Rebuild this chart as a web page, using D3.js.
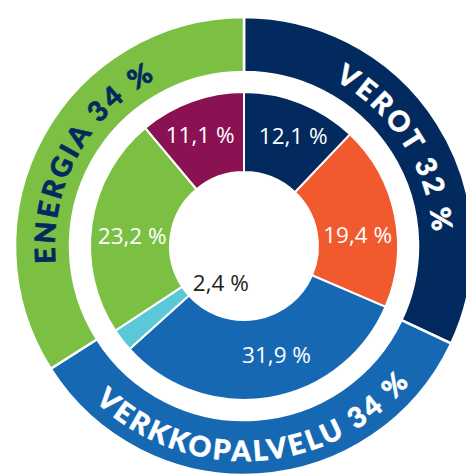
<!DOCTYPE html>
<html>
<head>
<meta charset="utf-8">
<script src="https://cdn.jsdelivr.net/npm/d3@7/dist/d3.min.js"></script>
<style>
html,body{margin:0;padding:0;background:#fff;}
svg{display:block;}
</style>
</head>
<body>
<script>
// ---- data ----
const outerCategories = ["VEROT", "VERKKOPALVELU", "ENERGIA"];
const outerValues = [32, 34, 34];
const outerLabels = ["VEROT 32 %", "VERKKOPALVELU 34 %", "ENERGIA 34 %"];
const outerColors = ["#022a5e", "#1768b3", "#7bc043"];
const outerTextColors = ["#ffffff", "#ffffff", "#022a5e"];

const innerValues = [12.1, 19.4, 31.9, 2.4, 23.2, 11.1];
const innerLabels = ["12,1 %", "19,4 %", "31,9 %", "2,4 %", "23,2 %", "11,1 %"];
const innerColors = ["#022a5e", "#f15a2e", "#1768b3", "#5bc8d8", "#7bc043", "#8a1253"];
const innerTextColors = ["#ffffff", "#ffffff", "#ffffff", "#231f20", "#ffffff", "#ffffff"];
// label nudges (layout)
const innerNudge = [[7,-4],[2,12],[14,-4],[67,-33],[1,6],[-5,-4]];

// ---- layout ----
const W = 466, H = 474;
const cx = 244, cy = 246;
const rOuterIn = 174, rOuterOut = 229;
const rInnerIn = 74, rInnerOut = 154;

const svg = d3.select("body").append("svg").attr("width", W).attr("height", H);
const g = svg.append("g").attr("transform", `translate(${cx},${cy})`);

const pie = d3.pie().sort(null).value(d => d);

// outer ring
const outerArcs = pie(outerValues);
const outerArc = d3.arc().innerRadius(rOuterIn).outerRadius(rOuterOut);
g.selectAll("path.outer").data(outerArcs).join("path")
  .attr("class", "outer")
  .attr("d", outerArc)
  .attr("fill", (d, i) => outerColors[i])
  .attr("stroke", "#fff").attr("stroke-width", 2.5);

// inner ring
const innerArcs = pie(innerValues);
const innerArc = d3.arc().innerRadius(rInnerIn).outerRadius(rInnerOut);
const labelArc = d3.arc().innerRadius(rInnerIn).outerRadius(rInnerOut);
g.selectAll("path.inner").data(innerArcs).join("path")
  .attr("class", "inner")
  .attr("d", innerArc)
  .attr("fill", (d, i) => innerColors[i])
  .attr("stroke", "#fff").attr("stroke-width", 2);

g.selectAll("text.inner").data(innerArcs).join("text")
  .attr("class", "inner")
  .attr("x", (d, i) => labelArc.centroid(d)[0] + innerNudge[i][0])
  .attr("y", (d, i) => labelArc.centroid(d)[1] + innerNudge[i][1])
  .attr("dy", "0.36em")
  .attr("text-anchor", "middle")
  .attr("font-family", "'Open Sans', sans-serif")
  .attr("font-size", 22.5)
  .attr("fill", (d, i) => innerTextColors[i])
  .text((d, i) => innerLabels[i]);

// curved outer labels
function pt(r, a) { return [r * Math.sin(a), -r * Math.cos(a)]; }
const defs = svg.append("defs");
const rTop = 189, rBottom = 215;
outerArcs.forEach((d, i) => {
  const mid = (d.startAngle + d.endAngle) / 2;
  const bottom = Math.cos(mid) < 0;
  let pathD;
  if (!bottom) {
    const p0 = pt(rTop, d.startAngle), p1 = pt(rTop, d.endAngle);
    pathD = `M${p0[0]},${p0[1]} A${rTop},${rTop} 0 0 1 ${p1[0]},${p1[1]}`;
  } else {
    const p0 = pt(rBottom, d.endAngle), p1 = pt(rBottom, d.startAngle);
    pathD = `M${p0[0]},${p0[1]} A${rBottom},${rBottom} 0 0 0 ${p1[0]},${p1[1]}`;
  }
  defs.append("path").attr("id", "lp" + i).attr("d", pathD);
  const t = g.append("text")
    .attr("font-family", "Lato, 'Open Sans', sans-serif")
    .attr("font-weight", 900)
    .attr("font-size", 28)
    .attr("letter-spacing", "3px")
    .attr("fill", outerTextColors[i])
    .attr("stroke", outerTextColors[i])
    .attr("stroke-width", 0.6)
    .attr("stroke-linejoin", "round");
  t.append("textPath")
    .attr("href", "#lp" + i)
    .attr("startOffset", "50%")
    .attr("text-anchor", "middle")
    .text(outerLabels[i]);
});
</script>
</body>
</html>
